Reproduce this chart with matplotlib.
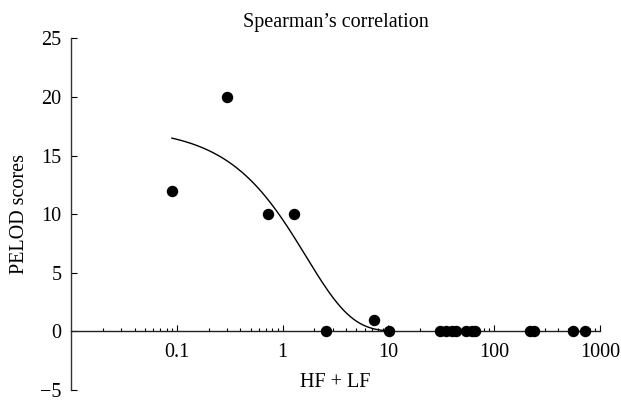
import numpy as np
import matplotlib
matplotlib.use("Agg")
import matplotlib.pyplot as plt
from matplotlib.ticker import LogLocator, NullFormatter

# HF + LF values and PELOD scores
hf_lf = [0.09, 0.30, 0.73, 1.28, 2.6, 7.3, 10.2,
         31, 35, 40, 44, 54, 62, 66, 220, 240, 560, 720]
pelod = [12, 20, 10, 10, 0, 1, 0,
         0, 0, 0, 0, 0, 0, 0, 0, 0, 0, 0]

# fitted exponential decay y = a * exp(-b * x)
fit_a = 17.4
fit_b = 0.6
fit_range = (0.09, 10.0)

x_ticks = [0.1, 1, 10, 100, 1000]
x_ticklabels = ["0.1", "1", "10", "100", "1000"]
y_ticks = [-5, 0, 5, 10, 15, 20, 25]

plt.rcParams['font.family'] = ['Liberation Serif', 'DejaVu Serif']
fs = 14.5

fig = plt.figure(figsize=(6.21, 4.01), dpi=100)
ax = fig.add_axes([0.1143, 0.0274, 0.966 - 0.1143, 0.9045 - 0.0274])

xf = np.logspace(np.log10(fit_range[0]), np.log10(fit_range[1]), 200)
ax.plot(xf, fit_a * np.exp(-fit_b * xf), '-', color='black', linewidth=1.0, zorder=2)
ax.scatter(hf_lf, pelod, s=52, color='black', zorder=3, clip_on=False)

ax.set_xscale('log')
ax.set_xlim(0.01, 1000)
ax.set_ylim(-5, 25)

ax.spines['top'].set_visible(False)
ax.spines['right'].set_visible(False)
ax.spines['bottom'].set_position(('data', 0))
ax.spines['left'].set_color('#333333')
ax.spines['bottom'].set_color('#222222')
ax.spines['left'].set_linewidth(1.0)
ax.spines['bottom'].set_linewidth(1.0)

ax.set_xticks(x_ticks)
ax.set_xticklabels(x_ticklabels, fontsize=fs)
ax.xaxis.set_minor_locator(LogLocator(base=10, subs=np.arange(2, 10)))
ax.xaxis.set_minor_formatter(NullFormatter())
ax.set_yticks(y_ticks)
ax.set_yticklabels(["\u22125" if v < 0 else str(v) for v in y_ticks], fontsize=fs)

ax.tick_params(axis='x', which='major', direction='in', length=4.5, width=0.8, pad=8)
ax.tick_params(axis='x', which='minor', direction='in', length=2.5, width=0.8)
ax.tick_params(axis='y', which='major', direction='in', length=4, width=0.8, pad=7)

ax.set_title("Spearman\u2019s correlation", fontsize=fs, pad=8)
ax.set_ylabel("PELOD scores", fontsize=fs, labelpad=8)
ax.set_xlabel("HF + LF", fontsize=fs)
ax.xaxis.label.set_verticalalignment('center')
ax.xaxis.set_label_coords(0.5, (390 - 382) / 352.0)

fig.savefig("out.png", dpi=100)
plt.close(fig)
